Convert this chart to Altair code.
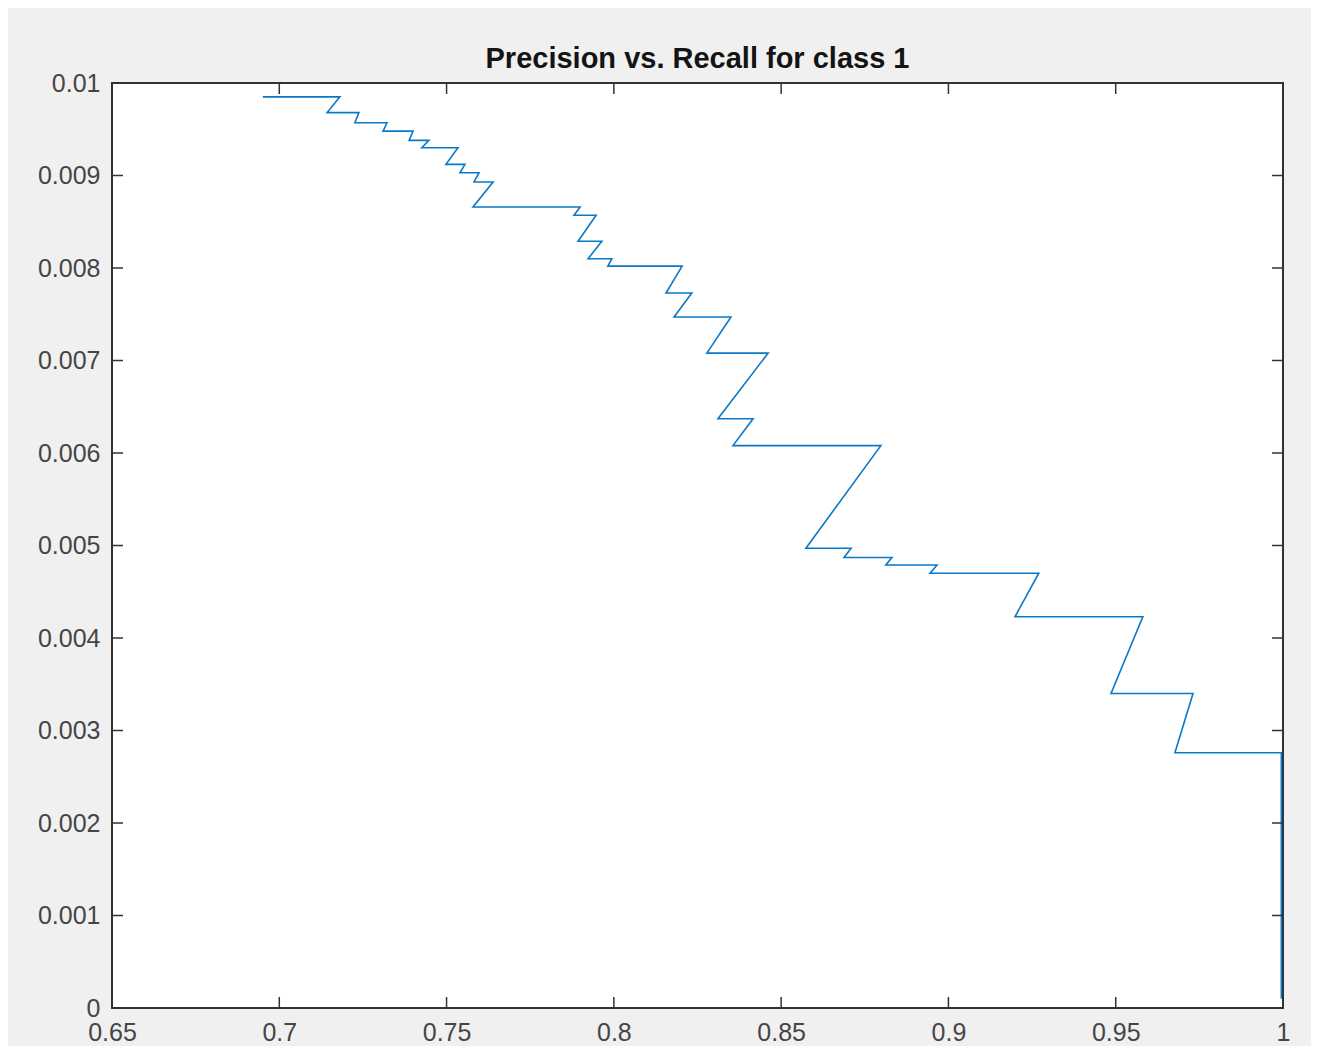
import altair as alt
import pandas as pd

# Data (recall on x, precision on y)
recall = [0.6951, 0.7181, 0.7143, 0.7238, 0.7226, 0.7322, 0.7310, 0.7400, 0.7388, 0.7447,
          0.7426, 0.7534, 0.7498, 0.7555, 0.7540, 0.7597, 0.7582, 0.7639, 0.7579, 0.7899,
          0.7881, 0.7947, 0.7893, 0.7964, 0.7923, 0.7994, 0.7982, 0.8204, 0.8156, 0.8233,
          0.8180, 0.8350, 0.8278, 0.8461, 0.8311, 0.8416, 0.8356, 0.8798, 0.8574, 0.8709,
          0.8688, 0.8831, 0.8813, 0.8966, 0.8945, 0.9270, 0.9199, 0.9581, 0.9486, 0.9731,
          0.9677, 0.9995, 0.9995]
precision = [0.00985, 0.00985, 0.00968, 0.00968, 0.00957, 0.00957, 0.00948, 0.00948, 0.00938, 0.00938,
             0.00930, 0.00930, 0.00912, 0.00912, 0.00903, 0.00903, 0.00893, 0.00893, 0.00866, 0.00866,
             0.00857, 0.00857, 0.00829, 0.00829, 0.00810, 0.00810, 0.00802, 0.00802, 0.00773, 0.00773,
             0.00747, 0.00747, 0.00708, 0.00708, 0.00637, 0.00637, 0.00608, 0.00608, 0.00497, 0.00497,
             0.00487, 0.00487, 0.00479, 0.00479, 0.00470, 0.00470, 0.00423, 0.00423, 0.00340, 0.00340,
             0.00276, 0.00276, 0.0001]

x_ticks = [0.65, 0.7, 0.75, 0.8, 0.85, 0.9, 0.95, 1.0]
y_ticks = [0.0, 0.001, 0.002, 0.003, 0.004, 0.005, 0.006, 0.007, 0.008, 0.009, 0.01]

title_text = "Precision vs. Recall for class 1"

W, H = 1171, 925
TICK = 11
FONT = "Liberation Sans"

df = pd.DataFrame({"recall": recall, "precision": precision, "i": list(range(len(recall)))})
xt = pd.DataFrame({"v": x_ticks})
yt = pd.DataFrame({"v": y_ticks})

xscale = alt.Scale(domain=[0.65, 1.0], nice=False, zero=False)
yscale = alt.Scale(domain=[0.0, 0.01], nice=False, zero=False)

x_axis = alt.Axis(values=x_ticks, format="~g", ticks=False, domain=False, grid=False,
                  labelPadding=12, labelFontSize=25, labelFont=FONT, labelColor="#454545",
                  title=None, labelFlush=False)
y_axis = alt.Axis(values=y_ticks, format="~g", ticks=False, domain=False, grid=False,
                  labelPadding=12, labelFontSize=25, labelFont=FONT, labelColor="#454545",
                  title=None, labelFlush=False)

line = alt.Chart(df).mark_line(color="#0a78c8", strokeWidth=1.6, clip=True).encode(
    x=alt.X("recall:Q", scale=xscale, axis=x_axis),
    y=alt.Y("precision:Q", scale=yscale, axis=y_axis),
    order="i:Q",
)

tick_color = "#333333"
bottom_ticks = alt.Chart(xt).mark_rule(color=tick_color, strokeWidth=1.5).encode(
    x=alt.X("v:Q", scale=xscale), y=alt.value(H), y2=alt.value(H - TICK))
top_ticks = alt.Chart(xt).mark_rule(color=tick_color, strokeWidth=1.5).encode(
    x=alt.X("v:Q", scale=xscale), y=alt.value(0), y2=alt.value(TICK))
left_ticks = alt.Chart(yt).mark_rule(color=tick_color, strokeWidth=1.5).encode(
    y=alt.Y("v:Q", scale=yscale), x=alt.value(0), x2=alt.value(TICK))
right_ticks = alt.Chart(yt).mark_rule(color=tick_color, strokeWidth=1.5).encode(
    y=alt.Y("v:Q", scale=yscale), x=alt.value(W), x2=alt.value(W - TICK))

chart = alt.layer(line, bottom_ticks, top_ticks, left_ticks, right_ticks).properties(
    width=W, height=H,
    autosize=alt.AutoSizeParams(type="none"),
    padding={"left": 104, "top": 75, "right": 28, "bottom": 38},
    background="#f0f0f0",
    title=alt.TitleParams(title_text, font=FONT, fontSize=29, fontWeight="bold",
                          color="#141414", anchor="middle", offset=0, dy=3),
).configure_view(
    fill="white", stroke="#333333", strokeWidth=2
)

chart.save("out.html", embed_options={"renderer": "svg", "actions": False})
